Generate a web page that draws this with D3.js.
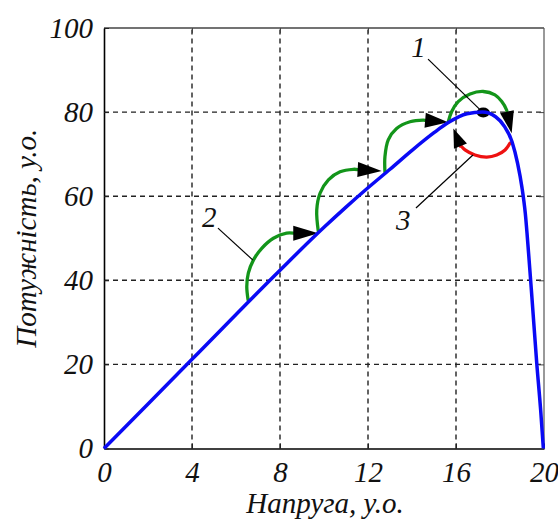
<!DOCTYPE html>
<html><head><meta charset="utf-8">
<script src="https://cdn.jsdelivr.net/npm/d3@7"></script>
<style>body{margin:0;background:#fff}svg{display:block}text{font-family:"Liberation Serif","Times New Roman",serif;font-style:italic;fill:#111}</style>
</head><body><svg id="c" width="558" height="521"></svg>
<script>
// ---- data ----
const xTicks = [0, 4, 8, 12, 16, 20];
const yTicks = [0, 20, 40, 60, 80, 100];
const xGrid = [4, 8, 12, 16];
const yGrid = [20, 40, 60, 80];
const xLabel = "Напруга, у.о.";
const yLabel = "Потужність, у.о.";

// P-V curve (blue)
const voltage = [0, 4, 8, 10, 11, 12, 13, 14, 15, 15.65, 16.5, 17.2, 17.8, 18.2, 18.55, 18.8, 19.0, 19.15, 19.3, 19.45, 19.67, 19.85, 19.97];
const power   = [0, 21.2, 42.4, 52.6, 57.4, 62.0, 66.4, 70.9, 75.1, 77.5, 79.6, 80.0, 78.9, 76.6, 72.9, 67.8, 62.0, 55.9, 46.4, 36.0, 20.3, 9.0, 0];

// green search steps (curve 2)
const step1V = [6.55, 6.49, 6.56, 6.79, 7.17, 7.70, 8.30];
const step1P = [35.3, 38.5, 41.7, 44.8, 47.6, 50.0, 51.2];
const step1Tip = [9.74, 51.2];
const step2V = [9.74, 9.67, 9.82, 10.2, 10.73, 11.33];
const step2P = [51.7, 56.7, 60.7, 63.9, 65.8, 66.4];
const step2Tip = [12.62, 66.0];
const step3V = [12.77, 12.77, 12.92, 13.3, 13.91, 14.51];
const step3P = [65.8, 69.4, 73.4, 76.1, 77.7, 78.1];
const step3Tip = [15.64, 77.6];
const step4V = [15.65, 15.8, 16.1, 16.64, 17.24, 17.77, 18.08, 18.3];
const step4P = [77.7, 80.1, 82.5, 84.3, 84.9, 84.1, 82.5, 80.5];
const step4Tip = [18.53, 75.0];
// red return (curve 3)
const redV = [18.45, 18.23, 17.85, 17.4, 16.86, 16.41, 16.18];
const redP = [72.6, 71.0, 69.8, 69.3, 69.8, 71.0, 72.2];
const redTip = [15.88, 76.1];

// maximum power point (1)
const mpp = [17.24, 79.9];

// annotation labels
const labelNames = ["1", "2", "3"];
const labelAt = [[14.3, 93.0], [4.78, 52.6], [13.6, 51.9]];
const leaderFrom = [[14.73, 92.6], [5.18, 52.4], [14.18, 57.2]];
const leaderTo = [[17.09, 80.6], [6.77, 44.8], [16.77, 69.8]];

// ---- drawing ----
const svg = d3.select("#c");
const x = d3.scaleLinear().domain([0, 20]).range([104, 544]);
const y = d3.scaleLinear().domain([0, 100]).range([448.5, 28]);
const FS = 29;

// grid
svg.append("g").selectAll("line").data(xGrid).join("line")
  .attr("x1", d => x(d)).attr("x2", d => x(d)).attr("y1", y(0)).attr("y2", y(100))
  .attr("stroke", "#222").attr("stroke-width", 1.4).attr("stroke-dasharray", "5,4");
svg.append("g").selectAll("line").data(yGrid).join("line")
  .attr("y1", d => y(d)).attr("y2", d => y(d)).attr("x1", x(0)).attr("x2", x(20))
  .attr("stroke", "#222").attr("stroke-width", 1.4).attr("stroke-dasharray", "5,4");

// frame top/right
svg.append("line").attr("x1", x(0)).attr("x2", x(20)).attr("y1", y(100)).attr("y2", y(100)).attr("stroke", "#444").attr("stroke-width", 1.3);
svg.append("line").attr("x1", x(20)).attr("x2", x(20)).attr("y1", y(0)).attr("y2", y(100)).attr("stroke", "#555").attr("stroke-width", 1.2);

// axes
const gx = svg.append("g").attr("transform", `translate(0,${y(0)})`)
  .call(d3.axisBottom(x).tickValues(xTicks).tickSizeInner(-5).tickSizeOuter(0).tickPadding(13));
const gy = svg.append("g").attr("transform", `translate(${x(0)},0)`)
  .call(d3.axisLeft(y).tickValues(yTicks).tickSizeInner(-5).tickSizeOuter(0).tickPadding(11));
const gr = svg.append("g").attr("transform", `translate(${x(20)},0)`)
  .call(d3.axisRight(y).tickValues(yTicks.slice(1, -1)).tickSizeInner(-5).tickSizeOuter(0).tickFormat(""));
const gt = svg.append("g").attr("transform", `translate(0,${y(100)})`)
  .call(d3.axisTop(x).tickValues(xTicks.slice(1, -1)).tickSizeInner(-5).tickSizeOuter(0).tickFormat(""));
[gr, gt].forEach(g => { g.select(".domain").remove(); g.selectAll("line").attr("stroke", "#444"); });
[gx, gy].forEach(g => {
  g.select(".domain").attr("stroke", "#000").attr("stroke-width", 1.6);
  g.selectAll("line").attr("stroke", "#222");
  g.selectAll("text").attr("font-size", FS).attr("font-family", null).style("font-style", "italic").attr("fill", "#111");
});

// axis titles
svg.append("text").attr("x", 325).attr("y", 513).attr("text-anchor", "middle").attr("font-size", FS).text(xLabel);
svg.append("text").attr("transform", `translate(36,${(y(0) + y(100)) / 2}) rotate(-90)`)
  .attr("text-anchor", "middle").attr("font-size", FS).text(yLabel);

// helpers
const toPts = (vs, ps) => vs.map((v, i) => [x(v), y(ps[i])]);
function arrow(path, tipData, color, L, W) {
  const tip = [x(tipData[0]), y(tipData[1])];
  const from = path[path.length - 1];
  let dx = tip[0] - from[0], dy = tip[1] - from[1];
  const n = Math.hypot(dx, dy); dx /= n; dy /= n;
  const base = [tip[0] - dx * L, tip[1] - dy * L];
  const pts = path.concat([base]);
  svg.append("path").attr("d", d3.line().curve(d3.curveCatmullRom)(pts))
    .attr("fill", "none").attr("stroke", color).attr("stroke-width", 3.3).attr("stroke-linecap", "round");
  const c1 = [base[0] - dy * W, base[1] + dx * W], c2 = [base[0] + dy * W, base[1] - dx * W];
  svg.append("path").attr("d", `M${tip}L${c1}L${c2}Z`).attr("fill", "#000");
}

const green = "#13951a";
arrow(toPts(step1V, step1P), step1Tip, green, 25, 7.5);
arrow(toPts(step2V, step2P), step2Tip, green, 24, 7.5);
arrow(toPts(step3V, step3P), step3Tip, green, 23, 7.5);
arrow(toPts(step4V, step4P), step4Tip, green, 22, 7);
arrow(toPts(redV, redP), redTip, "#ee1111", 19, 7);

// MPP dot
svg.append("ellipse").attr("cx", x(mpp[0])).attr("cy", y(mpp[1])).attr("rx", 6.5).attr("ry", 5).attr("fill", "#000");

// blue P-V curve
svg.append("path").datum(voltage.map((v, i) => [v, power[i]]))
  .attr("d", d3.line().x(d => x(d[0])).y(d => y(d[1])).curve(d3.curveMonotoneX))
  .attr("fill", "none").attr("stroke", "#0a0af5").attr("stroke-width", 3.5).attr("stroke-linejoin", "round");

// leader lines + labels
svg.append("g").selectAll("line").data(labelNames).join("line")
  .attr("x1", (d, i) => x(leaderFrom[i][0])).attr("y1", (d, i) => y(leaderFrom[i][1]))
  .attr("x2", (d, i) => x(leaderTo[i][0])).attr("y2", (d, i) => y(leaderTo[i][1]))
  .attr("stroke", "#000").attr("stroke-width", 1.2);
svg.append("g").selectAll("text").data(labelNames).join("text")
  .attr("x", (d, i) => x(labelAt[i][0])).attr("y", (d, i) => y(labelAt[i][1]))
  .attr("text-anchor", "middle").attr("font-size", FS).text(d => d);
</script></body></html>
